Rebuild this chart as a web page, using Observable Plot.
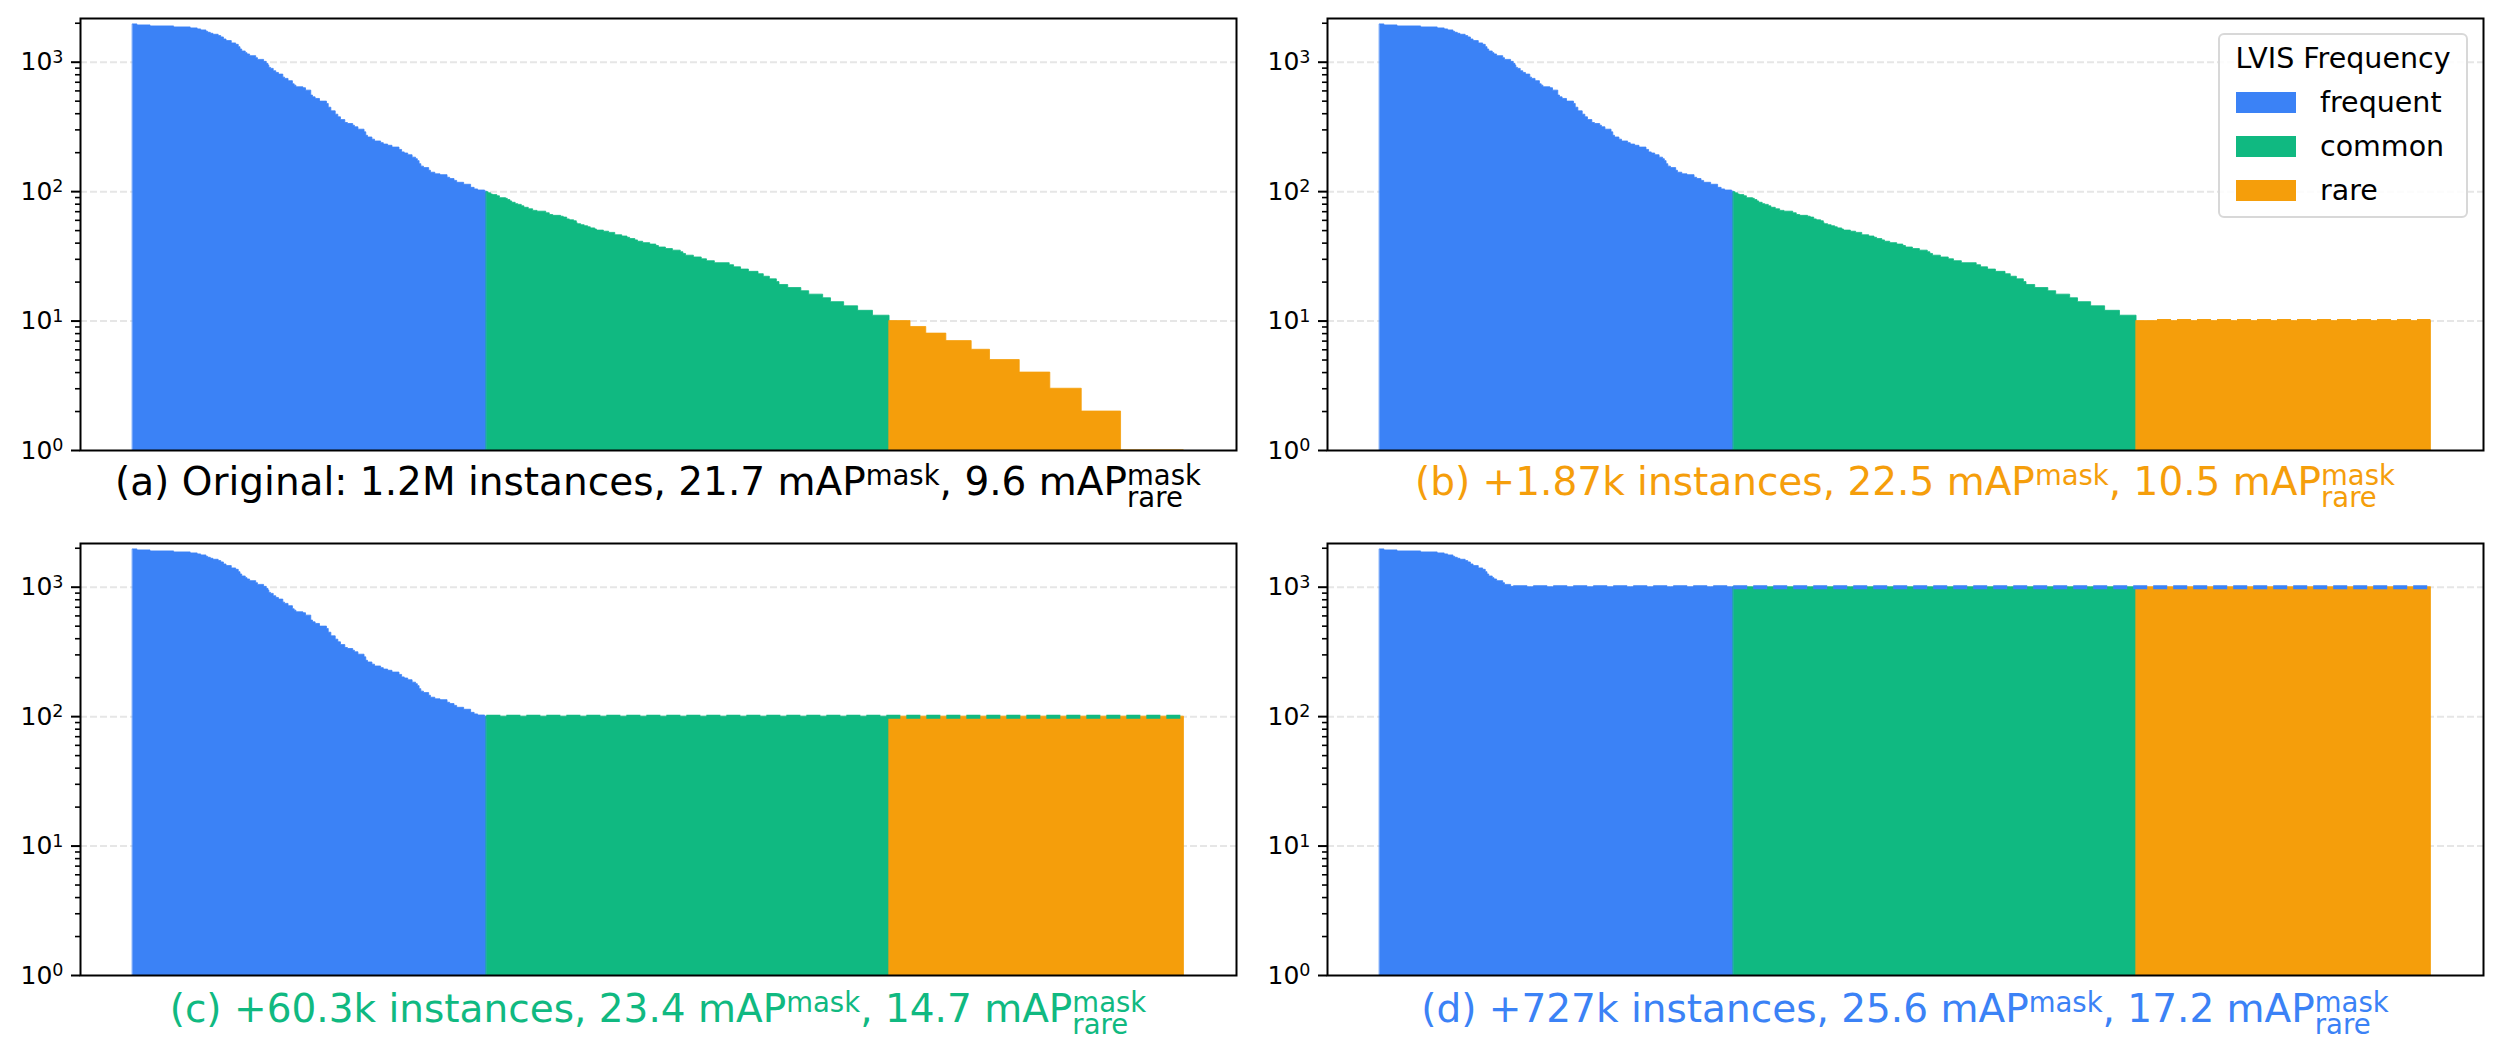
<!DOCTYPE html>
<html><head><meta charset="utf-8">
<script src="https://cdn.jsdelivr.net/npm/d3@7"></script>
<script src="https://cdn.jsdelivr.net/npm/@observablehq/plot@0.6"></script>
<style>
body{margin:0;background:#fff;}
#fig{position:relative;width:2502px;height:1055px;font-family:"DejaVu Sans",sans-serif;overflow:hidden;background:#fff}
.panel{position:absolute}
.legend{position:absolute;left:2218px;top:33px;width:250px;height:185px;box-sizing:border-box;border:2px solid #d8d8d8;border-radius:6px;background:rgba(255,255,255,0.85);font-size:28.5px;color:#000}
.legend .ttl{position:absolute;left:0;right:0;text-align:center;top:8px;line-height:32px;white-space:nowrap}
.legend .row{position:absolute;left:16px;height:32px;line-height:32px;white-space:nowrap}
.legend .sw{display:inline-block;width:60px;height:21px;vertical-align:middle;margin-right:24px;position:relative;top:-2px}
</style></head><body><div id="fig"></div>
<script>
// ---- data ----
const groups = ["frequent", "common", "rare"];
const groupColors = ["#3b82f6", "#10b981", "#f59e0b"];
// [number of categories, instances per category] runs, sorted descending (original LVIS)
const frequentRuns = [[5,1959],[15,1924],[27,1890],[19,1857],[8,1824],[4,1792],[6,1760],[2,1718],[3,1687],[3,1658],[6,1629],[3,1591],[3,1553],[3,1498],[6,1455],[5,1396],[3,1362],[2,1306],[2,1253],[4,1210],[2,1175],[3,1147],[7,1113],[2,1074],[7,1042],[3,1006],[2,971],[1,942],[2,904],[3,888],[3,851],[3,826],[5,802],[2,760],[4,743],[5,713],[2,675],[2,659],[8,640],[3,629],[6,603],[2,552],[3,535],[5,520],[8,496],[2,476],[3,445],[5,417],[3,393],[3,375],[5,357],[3,339],[6,333],[2,323],[4,314],[7,301],[2,287],[2,270],[5,262],[3,252],[7,244],[3,237],[5,231],[5,226],[8,219],[3,210],[3,201],[4,197],[5,191],[4,183],[2,178],[2,172],[2,163],[3,156],[6,152],[2,145],[5,140],[6,136],[8,134],[3,128],[5,125],[3,121],[8,117],[8,113],[4,107],[4,104],[8,102],[2,100]];
const commonRuns = [[2,99],[3,97],[2,95],[5,94],[3,92],[7,89],[2,88],[3,86],[2,84],[4,82],[3,80],[4,79],[3,77],[5,75],[5,73],[5,71],[10,70],[4,68],[4,66],[9,65],[3,64],[4,63],[3,61],[5,60],[3,59],[1,57],[4,56],[4,55],[4,54],[3,53],[5,52],[2,51],[8,50],[6,49],[7,48],[8,46],[6,45],[3,44],[6,43],[3,42],[6,41],[8,40],[7,39],[3,38],[8,37],[8,36],[9,35],[3,34],[3,33],[9,32],[9,31],[6,30],[9,29],[17,28],[5,27],[8,26],[9,25],[11,24],[6,23],[7,22],[8,21],[3,20],[10,19],[15,18],[9,17],[16,16],[9,15],[15,14],[16,13],[17,12],[19,11]];
const rareRuns = [[24,10],[18,9],[23,8],[29,7],[21,6],[34,5],[35,4],[36,3],[45,2],[72,1]];
// minimum instances per category in each panel (frequent, common, rare)
const panelFloors = [[0,0,0],[0,0,10],[0,100,100],[1000,1000,1000]];
const panelColors = ["#000000", "#f59e0b", "#10b981", "#3b82f6"];
const captionLead = ["(a) Original: 1.2M instances,", "(b) +1.87k instances,", "(c) +60.3k instances,", "(d) +727k instances,"];
const captionMask = ["21.7", "22.5", "23.4", "25.6"];
const captionRare = ["9.6", "10.5", "14.7", "17.2"];
const yTicks = [1, 10, 100, 1000];
const yTickExponents = ["0", "1", "2", "3"];
const yMinorTicks = [2,3,4,5,6,7,8,9,20,30,40,50,60,70,80,90,200,300,400,500,600,700,800,900,2000];
const yMax = 2176;

// ---- layout ----
const fig = document.getElementById("fig");
const panelPos = [
  {left: 0, top: 0, width: 1245, ml: 80, mr: 9, base: 495, cx: 658},
  {left: 1245, top: 0, width: 1257, ml: 82, mr: 19, base: 495, cx: 1905},
  {left: 0, top: 525, width: 1245, ml: 80, mr: 9, base: 1022, cx: 658},
  {left: 1245, top: 525, width: 1257, ml: 82, mr: 19, base: 1022, cx: 1905}
];
const allRuns = [frequentRuns, commonRuns, rareRuns];
const total = allRuns.flat().reduce((s, r) => s + r[0], 0);

// step outline points for each frequency group: start of every run + end of the group
function buildSteps(floors) {
  const pts = [];
  let start = 0;
  allRuns.forEach((runs, g) => {
    let v = 1;
    for (const [count, value] of runs) {
      v = Math.max(value, floors[g]);
      pts.push({group: groups[g], x: start - 0.5, v});
      start += count;
    }
    pts.push({group: groups[g], x: start - 0.5, v});
  });
  return pts;
}
function lineStart(floors) {
  let start = 0, found = null;
  allRuns.forEach((runs, g) => {
    for (const [count, value] of runs) {
      if (found === null && floors[g] > 0 && value < floors[g]) found = start;
      start += count;
    }
  });
  return found;
}

panelFloors.forEach((floors, i) => {
  const p = panelPos[i];
  const steps = buildSteps(floors);
  const floorVal = Math.max(...floors);
  const ls = lineStart(floors);
  const extra = [];
  if (floorVal > 0 && ls !== null) {
    extra.push(Plot.ruleY([{y: floorVal, x1: ls - 0.5, x2: total - 0.5}], {
      y: "y", x1: "x1", x2: "x2", stroke: panelColors[i], strokeWidth: 4, strokeDasharray: "14,6"
    }));
  }
  const svg = Plot.plot({
    width: p.width, height: 455,
    marginLeft: p.ml, marginRight: p.mr, marginTop: 18, marginBottom: 5,
    style: {fontFamily: "'DejaVu Sans', sans-serif", background: "transparent", overflow: "visible", color: "#000"},
    x: {domain: [-0.5 - 0.05 * total, total - 0.5 + 0.05 * total], axis: null},
    y: {type: "log", domain: [1, yMax], axis: null},
    color: {domain: groups, range: groupColors},
    marks: [
      Plot.gridY(yTicks.slice(1), {stroke: "#e6e6e6", strokeOpacity: 1, strokeWidth: 2, strokeDasharray: "7,3"}),
      Plot.areaY(steps, {x: "x", y1: () => 1, y2: "v", z: "group", fill: "group", stroke: "group", strokeWidth: 0.8, curve: "step-after"}),
      ...extra,
      Plot.axisY(yMinorTicks, {tickSize: 5, tickFormat: () => "", strokeWidth: 1.6, stroke: "#000", label: null}),
      Plot.axisY(yTicks, {tickSize: 9, tickPadding: 8, tickFormat: (d) => "10^" + yTickExponents[yTicks.indexOf(d)], fontSize: 25, strokeWidth: 2, stroke: "#000", label: null}),
      Plot.frame({stroke: "#000", strokeWidth: 2})
    ]
  });
  svg.classList.add("panel");
  svg.style.left = p.left + "px";
  svg.style.top = p.top + "px";
  svg.querySelectorAll("text").forEach(t => {
    const s = t.textContent;
    if (s.includes("^")) {
      const [b, e] = s.split("^");
      t.textContent = b;
      const ts = document.createElementNS("http://www.w3.org/2000/svg", "tspan");
      ts.setAttribute("dy", "-0.42em");
      ts.setAttribute("font-size", "0.7em");
      ts.textContent = e;
      t.appendChild(ts);
    }
  });
  fig.appendChild(svg);
});

// ---- legend (panel b) ----
const legend = document.createElement("div");
legend.className = "legend";
let html = `<div class="ttl">LVIS Frequency</div>`;
groups.forEach((g, k) => {
  html += `<div class="row" style="top:${52 + k * 44}px"><span class="sw" style="background:${groupColors[k]}"></span>${g}</div>`;
});
legend.innerHTML = html;
fig.appendChild(legend);

// ---- captions ----
const ns = "http://www.w3.org/2000/svg";
const cap = document.createElementNS(ns, "svg");
cap.setAttribute("width", 2502);
cap.setAttribute("height", 1055);
cap.style.position = "absolute";
cap.style.left = "0px";
cap.style.top = "0px";
cap.style.pointerEvents = "none";
fig.appendChild(cap);
const mainSize = 39, subSize = 27.5;
panelPos.forEach((p, i) => {
  const t = document.createElementNS(ns, "text");
  t.setAttribute("x", 0);
  t.setAttribute("y", p.base);
  t.setAttribute("fill", panelColors[i]);
  t.setAttribute("font-family", "DejaVu Sans");
  t.setAttribute("font-size", mainSize);
  t.style.whiteSpace = "pre";
  const mk = (txt, size, dy, dx) => {
    const s = document.createElementNS(ns, "tspan");
    s.setAttribute("font-size", size);
    if (dy) s.setAttribute("dy", dy);
    if (dx) s.setAttribute("dx", dx);
    s.textContent = txt;
    t.appendChild(s);
    return s;
  };
  mk(`${captionLead[i]} ${captionMask[i]} mAP`, mainSize);
  mk("mask", subSize, -10);
  mk(`, ${captionRare[i]} mAP`, mainSize, 10);
  const sup = mk("mask", subSize, -10);
  const sub = mk("rare", subSize, 22);
  cap.appendChild(t);
  sub.setAttribute("dx", -sup.getComputedTextLength());
  const bb = t.getBBox();
  t.setAttribute("x", p.cx - bb.width / 2 - bb.x);
});
</script></body></html>
